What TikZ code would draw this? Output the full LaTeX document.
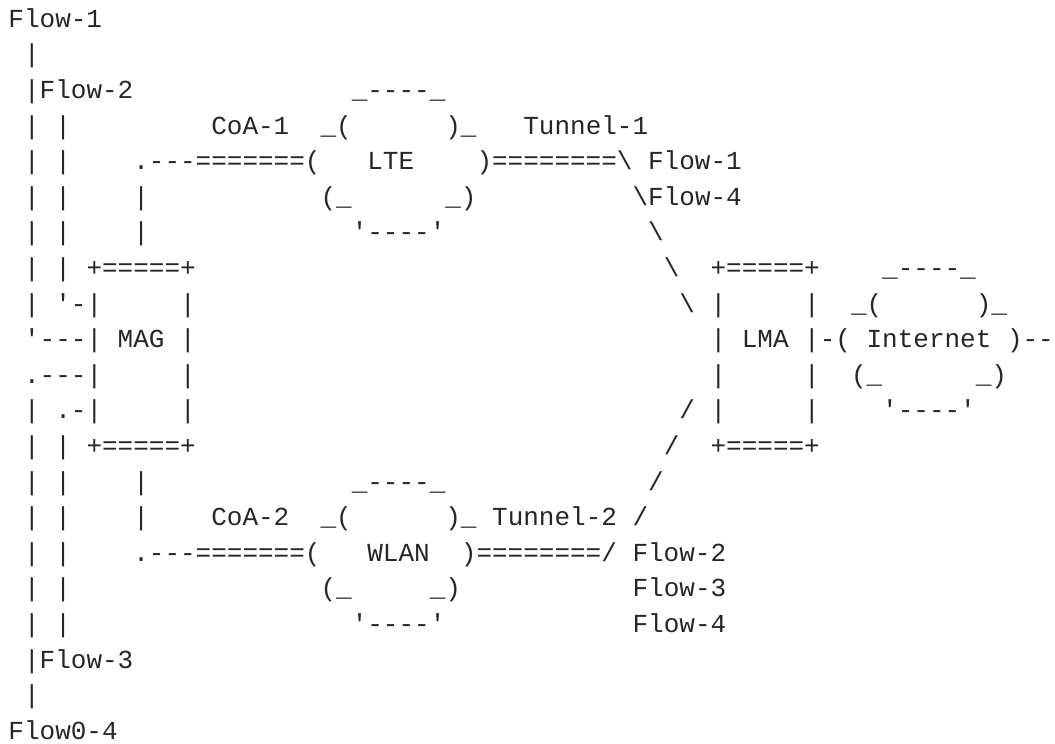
\documentclass[tikz,border=0pt]{standalone}
\usepackage{fontspec}
\setmonofont{Liberation Mono}
\newcommand\skipc[1]{\hskip#1\fontdimen2\font\relax}
\begin{document}
\begin{tikzpicture}[x=1pt,y=-1pt,
  ln/.style={anchor=base west, inner sep=0pt, outer sep=0pt,
    font=\ttfamily\fontsize{26}{30}\selectfont, text=black!85}]
\fill[white] (0,0) rectangle (1055,744);
\useasboundingbox (0,0) rectangle (1055,744);
\node[ln] (l1)  at (8.5,27.3)  {Flow-1};
\node[ln] (l2)  at (8.5,62.9)  {\skipc{1}|};
\node[ln] (l3)  at (8.5,98.5)  {\skipc{1}|Flow-2\skipc{14}\_----\_};
\node[ln] (l4)  at (8.5,134.1) {\skipc{1}|\skipc{1}|\skipc{9}CoA-1\skipc{2}\_(\skipc{6})\_\skipc{3}Tunnel-1};
\node[ln] (l5)  at (8.5,169.7) {\skipc{1}|\skipc{1}|\skipc{4}.---=======(\skipc{3}LTE\skipc{4})========\textbackslash\skipc{1}Flow-1};
\node[ln] (l6)  at (8.5,205.3) {\skipc{1}|\skipc{1}|\skipc{4}|\skipc{11}(\_\skipc{6}\_)\skipc{10}\textbackslash Flow-4};
\node[ln] (l7)  at (8.5,240.9) {\skipc{1}|\skipc{1}|\skipc{4}|\skipc{13}'----'\skipc{13}\textbackslash};
\node[ln] (l8)  at (8.5,276.5) {\skipc{1}|\skipc{1}|\skipc{1}+=====+\skipc{30}\textbackslash\skipc{2}+=====+\skipc{4}\_----\_};
\node[ln] (l9)  at (8.5,312.1) {\skipc{1}|\skipc{1}'-|\skipc{5}|\skipc{31}\textbackslash\skipc{1}|\skipc{5}|\skipc{2}\_(\skipc{6})\_};
\node[ln] (l10) at (8.5,347.7) {\skipc{1}'---|\skipc{1}MAG\skipc{1}|\skipc{33}|\skipc{1}LMA\skipc{1}|-(\skipc{1}Internet\skipc{1})--};
\node[ln] (l11) at (8.5,383.3) {\skipc{1}.---|\skipc{5}|\skipc{33}|\skipc{5}|\skipc{2}(\_\skipc{6}\_)};
\node[ln] (l12) at (8.5,418.9) {\skipc{1}|\skipc{1}.-|\skipc{5}|\skipc{31}/\skipc{1}|\skipc{5}|\skipc{4}'----'};
\node[ln] (l13) at (8.5,454.5) {\skipc{1}|\skipc{1}|\skipc{1}+=====+\skipc{30}/\skipc{2}+=====+};
\node[ln] (l14) at (8.5,490.1) {\skipc{1}|\skipc{1}|\skipc{4}|\skipc{13}\_----\_\skipc{13}/};
\node[ln] (l15) at (8.5,525.7) {\skipc{1}|\skipc{1}|\skipc{4}|\skipc{4}CoA-2\skipc{2}\_(\skipc{6})\_\skipc{1}Tunnel-2\skipc{1}/};
\node[ln] (l16) at (8.5,561.3) {\skipc{1}|\skipc{1}|\skipc{4}.---=======(\skipc{3}WLAN\skipc{2})========/\skipc{1}Flow-2};
\node[ln] (l17) at (8.5,596.9) {\skipc{1}|\skipc{1}|\skipc{16}(\_\skipc{5}\_)\skipc{11}Flow-3};
\node[ln] (l18) at (8.5,632.5) {\skipc{1}|\skipc{1}|\skipc{18}'----'\skipc{12}Flow-4};
\node[ln] (l19) at (8.5,668.1) {\skipc{1}|Flow-3};
\node[ln] (l20) at (8.5,703.7) {\skipc{1}|};
\node[ln] (l21) at (8.5,739.3) {Flow0-4};
\end{tikzpicture}
\end{document}
